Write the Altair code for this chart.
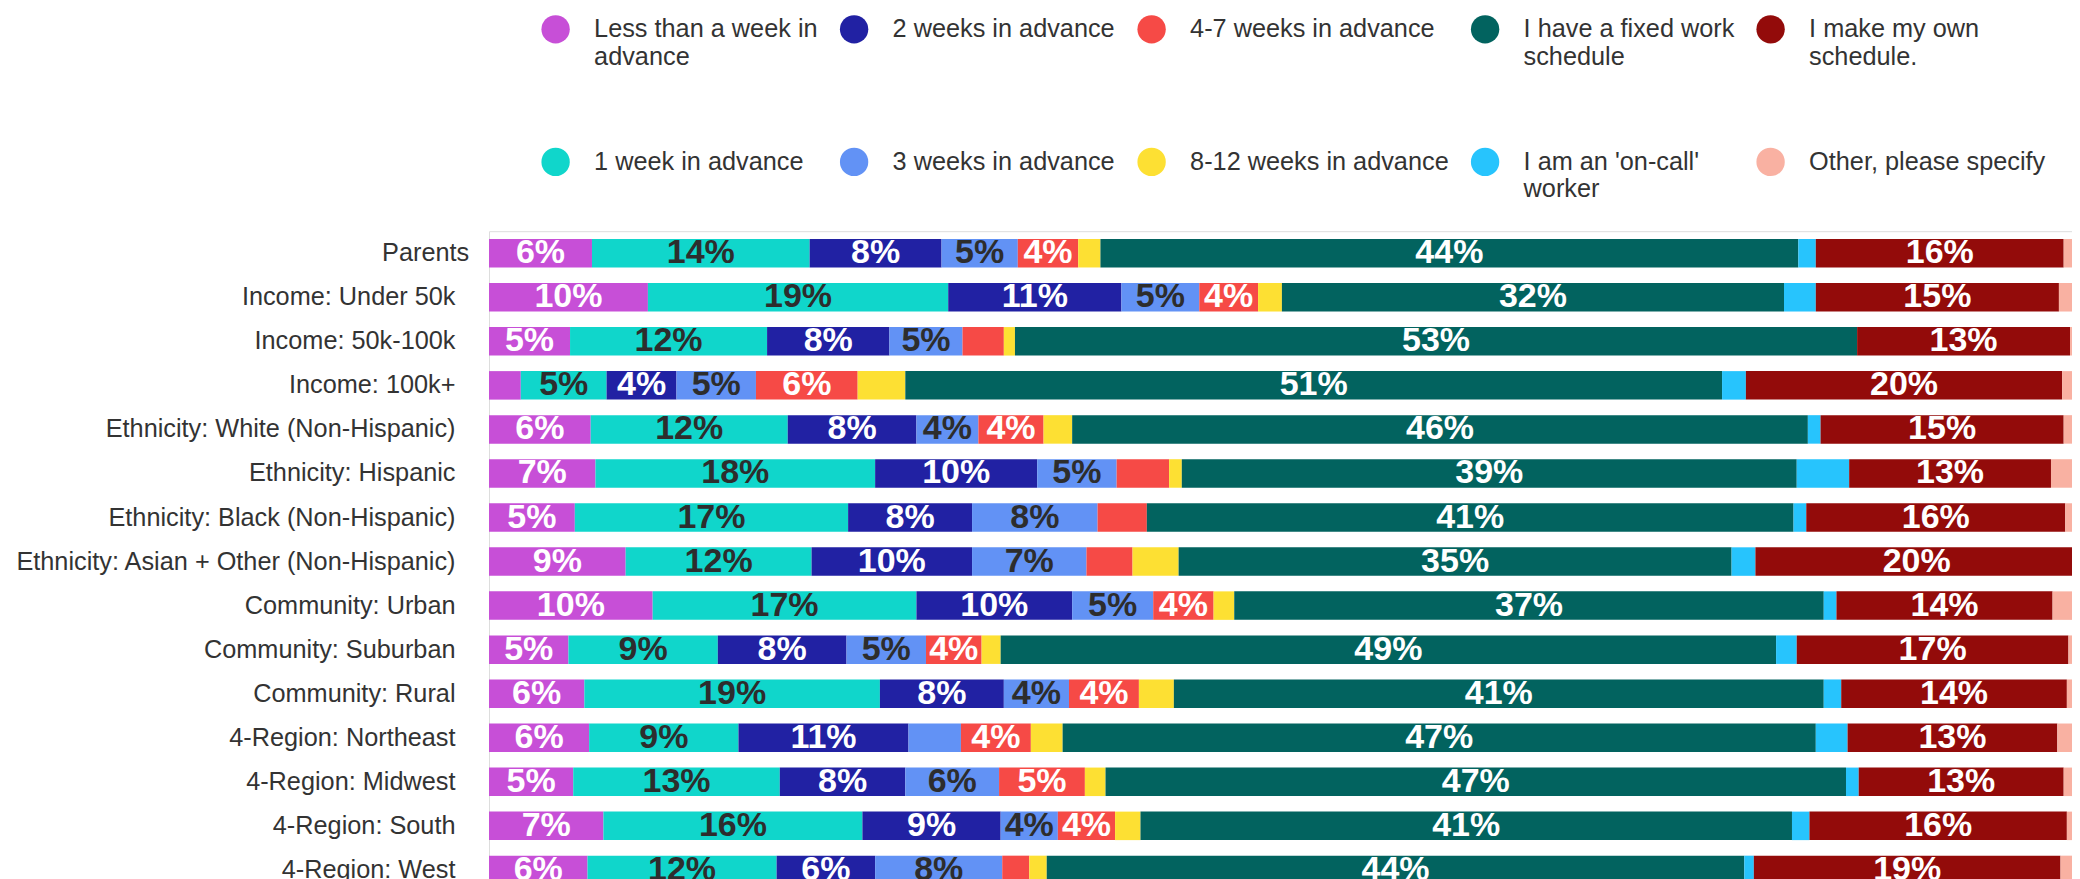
import json
import altair as alt
import pandas as pd

# ---------------- data ----------------
groups = [
    "Parents",
    "Income: Under 50k",
    "Income: 50k-100k",
    "Income: 100k+",
    "Ethnicity: White (Non-Hispanic)",
    "Ethnicity: Hispanic",
    "Ethnicity: Black (Non-Hispanic)",
    "Ethnicity: Asian + Other (Non-Hispanic)",
    "Community: Urban",
    "Community: Suburban",
    "Community: Rural",
    "4-Region: Northeast",
    "4-Region: Midwest",
    "4-Region: South",
    "4-Region: West",
]

categories = [
    "Less than a week in advance",
    "1 week in advance",
    "2 weeks in advance",
    "3 weeks in advance",
    "4-7 weeks in advance",
    "8-12 weeks in advance",
    "I have a fixed work schedule",
    "I am an 'on-call' worker",
    "I make my own schedule.",
    "Other, please specify",
]

less_than_week = [6.48, 10.0, 5.1, 2.0, 6.4, 6.7, 5.4, 8.6, 10.3, 5.0, 6.0, 6.3, 5.3, 7.2, 6.2]
one_week = [13.7, 18.9, 12.4, 5.4, 12.4, 17.6, 17.2, 11.7, 16.6, 9.4, 18.6, 9.4, 13.0, 16.3, 11.9]
two_weeks = [8.3, 10.9, 7.7, 4.4, 8.1, 10.2, 7.8, 10.1, 9.8, 8.1, 7.8, 10.7, 7.9, 8.7, 6.2]
three_weeks = [4.8, 4.9, 4.6, 5.0, 3.9, 5.0, 7.9, 7.2, 5.1, 5.0, 4.1, 3.3, 5.9, 3.6, 8.0]
four_seven_weeks = [3.8, 3.7, 2.6, 6.4, 4.1, 3.3, 3.1, 2.9, 3.8, 3.5, 4.4, 4.4, 5.4, 3.6, 1.7]
eight_twelve_weeks = [1.4, 1.5, 0.7, 3.0, 1.8, 0.8, 0.0, 2.9, 1.3, 1.2, 2.2, 2.0, 1.3, 1.6, 1.1]
fixed_schedule = [43.92, 31.6, 53.0, 51.4, 46.3, 38.7, 40.7, 34.8, 37.1, 48.8, 40.9, 47.4, 46.6, 41.0, 43.9]
on_call = [1.1, 2.0, 0.0, 1.5, 0.8, 3.3, 0.8, 1.5, 0.8, 1.3, 1.1, 2.0, 0.8, 1.1, 0.6]
own_schedule = [15.6, 15.3, 13.4, 19.9, 15.3, 12.7, 16.3, 20.3, 13.6, 17.1, 14.2, 13.2, 12.9, 16.2, 19.3]
other_specify = [0.9, 1.2, 0.5, 1.0, 0.9, 1.7, 0.8, 0.0, 1.6, 0.6, 0.7, 1.3, 0.9, 0.7, 1.1]

series = [less_than_week, one_week, two_weeks, three_weeks, four_seven_weeks,
          eight_twelve_weeks, fixed_schedule, on_call, own_schedule, other_specify]

# ---------------- styles ----------------
cat_colors = {
    "Less than a week in advance": "#C74FD7",
    "1 week in advance": "#10D6CB",
    "2 weeks in advance": "#2121A3",
    "3 weeks in advance": "#6292F5",
    "4-7 weeks in advance": "#F64A46",
    "8-12 weeks in advance": "#FDE033",
    "I have a fixed work schedule": "#02635F",
    "I am an 'on-call' worker": "#27C4FD",
    "I make my own schedule.": "#930B0A",
    "Other, please specify": "#F9B1A2",
}
# legend is filled row by row: 5 columns x 2 rows
legend_order = [categories[i] for i in (0, 2, 4, 6, 8, 1, 3, 5, 7, 9)]
legend_colors = [cat_colors[c] for c in legend_order]
dark_text_cats = ["1 week in advance", "3 weeks in advance"]

wrapped = {
    "Less than a week in advance": ["Less than a week in", "advance"],
    "I have a fixed work schedule": ["I have a fixed work", "schedule"],
    "I make my own schedule.": ["I make my own", "schedule."],
    "I am an 'on-call' worker": ["I am an 'on-call'", "worker"],
}
expr = "[datum.label, '']"
for k, v in wrapped.items():
    expr = f"datum.label == {json.dumps(k)} ? {json.dumps(v)} : ({expr})"

rows = []
for ci, (cat, vals) in enumerate(zip(categories, series)):
    for gi, g in enumerate(groups):
        rows.append({"group": g, "category": cat, "value": vals[gi], "order": ci})
df = pd.DataFrame(rows)

FONT = "Liberation Sans"

base = alt.Chart(df).transform_stack(
    stack="value",
    groupby=["group"],
    as_=["x0", "x1"],
    sort=[alt.SortField(field="order", order="ascending")],
)

y_enc = alt.Y(
    "group:N",
    sort=groups,
    title=None,
    scale=alt.Scale(paddingInner=0.353, paddingOuter=0.1765),
    axis=alt.Axis(
        labelFont=FONT,
        labelFontSize=25.3,
        labelColor="#333333",
        labelLimit=700,
        ticks=False,
        domain=False,
        grid=False,
        labelPadding={"condition": {"test": "datum.value == 'Parents'", "value": 20.3}, "value": 34},
    ),
)
x_scale = alt.Scale(domain=[0, 100], nice=False, range=[0, 1589])

bars = base.mark_bar().encode(
    x=alt.X("x0:Q", scale=x_scale, axis=None),
    x2="x1:Q",
    y=y_enc,
    color=alt.Color(
        "category:N",
        scale=alt.Scale(domain=legend_order, range=legend_colors),
        legend=alt.Legend(
            orient="none",
            legendX=52.1,
            legendY=-216.8,
            direction="horizontal",
            columns=5,
            title=None,
            padding=0,
            symbolType="circle",
            symbolSize=804,
            symbolStrokeWidth=0,
            symbolOpacity=1,
            labelFont=FONT,
            labelFontSize=25.3,
            labelColor="#333333",
            labelLimit=600,
            labelOffset=24,
            labelBaseline="middle",
            columnPadding=21.5,
            rowPadding=77,
            labelExpr=expr,
        ),
    ),
)

labels = (
    base.transform_filter("datum.value >= 3.5")
    .transform_calculate(
        xm="(datum.x0 + datum.x1) / 2",
        txt="format(datum.value / 100, '.0%')",
    )
    .mark_text(font=FONT, fontSize=34, fontWeight="bold", align="center", baseline="middle")
    .encode(
        x=alt.X("xm:Q", scale=x_scale, axis=None),
        y=y_enc,
        text="txt:N",
        color=alt.condition(
            f"indexof({json.dumps(dark_text_cats)}, datum.category) >= 0",
            alt.value("#2d2d2d"),
            alt.value("#ffffff"),
        ),
    )
)

chart = (
    alt.layer(bars, labels)
    .properties(
        width=1583,
        height=660.75,
        padding={"left": 481, "top": 223.2, "right": 0, "bottom": 0},
        autosize=alt.AutoSizeParams(type="none"),
    )
    .configure_view(stroke=None)
    .configure(background="white")
)

chart.save("out.html", embed_options={"renderer": "svg", "actions": False})
